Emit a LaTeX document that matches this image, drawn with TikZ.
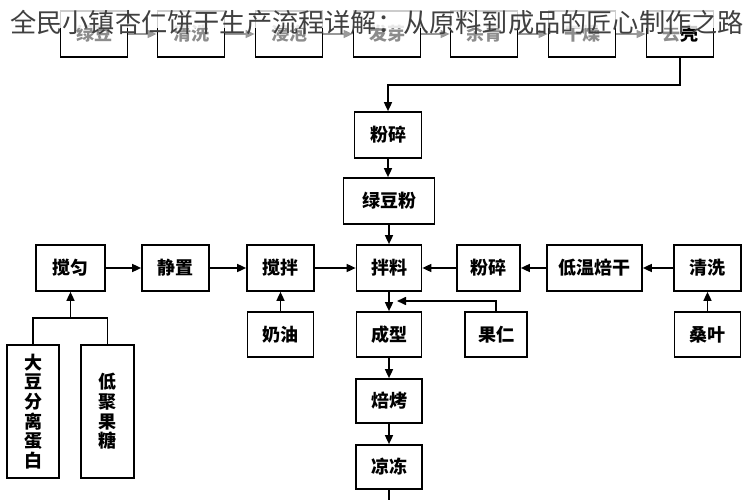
\documentclass[tikz,border=0pt]{standalone}
\usepackage{fontspec}
\newfontfamily\cjk{Noto Sans CJK SC}
\usetikzlibrary{arrows.meta}
\begin{document}
\begin{tikzpicture}[x=1pt,y=-1pt,
  box/.style={draw=black, line width=1.7pt, fill=white, inner sep=0pt,
    font=\cjk\bfseries\fontsize{18}{19.6}\selectfont, align=center},
  bx/.style 2 args={box, minimum width=#1, minimum height=#2},
  conn/.style={line width=1.6pt},
  arr/.style={conn, -{Triangle[length=9pt,width=8pt]}},
  garr/.style={arr, draw=black!40, fill=black!40},
  faded/.style={text=black!45}
]
\useasboundingbox (0,0) rectangle (749,500);

% top row
\node[bx={67pt}{46pt}, faded] (t1) at (94,34) {绿豆};
\node[bx={67pt}{46pt}, faded] (t2) at (191,34) {清洗};
\node[bx={67pt}{46pt}, faded] (t3) at (289,34) {浸泡};
\node[bx={67pt}{46pt}, faded] (t4) at (387,34) {发芽};
\node[bx={67pt}{46pt}, faded] (t5) at (484,34) {杀青};
\node[bx={67pt}{46pt}, faded] (t6) at (582,34) {干燥};
\node[bx={67pt}{46pt}] (t7) at (680,34) {\textcolor{black!45}{去}壳};
\draw[garr] (t1) -- (t2);
\draw[garr] (t2) -- (t3);
\draw[garr] (t3) -- (t4);
\draw[garr] (t4) -- (t5);
\draw[garr] (t5) -- (t6);
\draw[garr] (t6) -- (t7);

% main column
\node[bx={67pt}{46pt}] (fs1) at (388,135) {粉碎};
\node[bx={91pt}{46pt}] (ldf) at (389,201) {绿豆粉};
\node[bx={65pt}{46pt}] (bl) at (389,268) {拌料};
\node[bx={65pt}{45pt}] (cx) at (389,334.5) {成型};
\node[bx={66pt}{44pt}] (bk) at (389,401) {焙烤};
\node[bx={66pt}{44pt}] (ld) at (389,467) {凉冻};

% row three
\node[bx={69pt}{46pt}] (jy) at (70.5,268) {搅匀};
\node[bx={67pt}{46pt}] (jz) at (175.5,268) {静置};
\node[bx={67pt}{46pt}] (jb) at (280.5,268) {搅拌};
\node[bx={63pt}{46pt}] (fs2) at (488.5,268) {粉碎};
\node[bx={95pt}{46pt}] (dw) at (594.5,268) {低温焙干};
\node[bx={67pt}{46pt}] (qx2) at (707.5,268) {清洗};

% row four
\node[bx={66pt}{45pt}] (ny) at (280.5,334.5) {奶油};
\node[bx={62pt}{45pt}] (gr) at (496,334.5) {果仁};
\node[bx={66pt}{45pt}] (sy) at (707.5,334.5) {桑叶};

% vertical boxes
\node[bx={52pt}{133pt}] (dd) at (33,411.5) {大\\豆\\分\\离\\蛋\\白};
\node[bx={53pt}{133pt}] (dj) at (107.5,411.5) {低\\聚\\果\\糖};

% connectors
\coordinate (bend) at (680,85);
\draw[arr] (t7.south) -- (bend) -| (fs1.north);
\draw[arr] (fs1.south) -- (fs1.south |- ldf.north);
\draw[arr] (ldf) -- (bl);
\draw[arr] (jy) -- (jz);
\draw[arr] (jz) -- (jb);
\draw[arr] (jb) -- (bl);
\draw[arr] (fs2) -- (bl);
\draw[arr] (dw) -- (fs2);
\draw[arr] (qx2) -- (dw);
\draw[arr] (ny) -- (jb);
\draw[arr] (sy) -- (qx2);
\draw[arr] (bl) -- (cx);
\draw[arr] (cx) -- (bk);
\draw[arr] (bk) -- (ld);
\coordinate (bottomend) at (389,500);
\draw[conn] (ld) -- (bottomend);
\coordinate (gtip) at (397,301);
\draw[arr] (gr.north) |- (gtip);
\coordinate (jn) at (70.5,318);
\draw[conn] (dd.north) |- (jn) -| (dj.north);
\draw[arr] (jn) -- (jy);

% faded band and title
\fill[white, opacity=0.8] (0,0) rectangle (749,28);
\node[font=\cjk\fontsize{26.2}{26.2}\selectfont, text=black!75, inner sep=0pt] (title) at (377,22)
  {全民小镇杏仁饼干生产流程详解：从原料到成品的匠心制作之路};
\end{tikzpicture}
\end{document}
